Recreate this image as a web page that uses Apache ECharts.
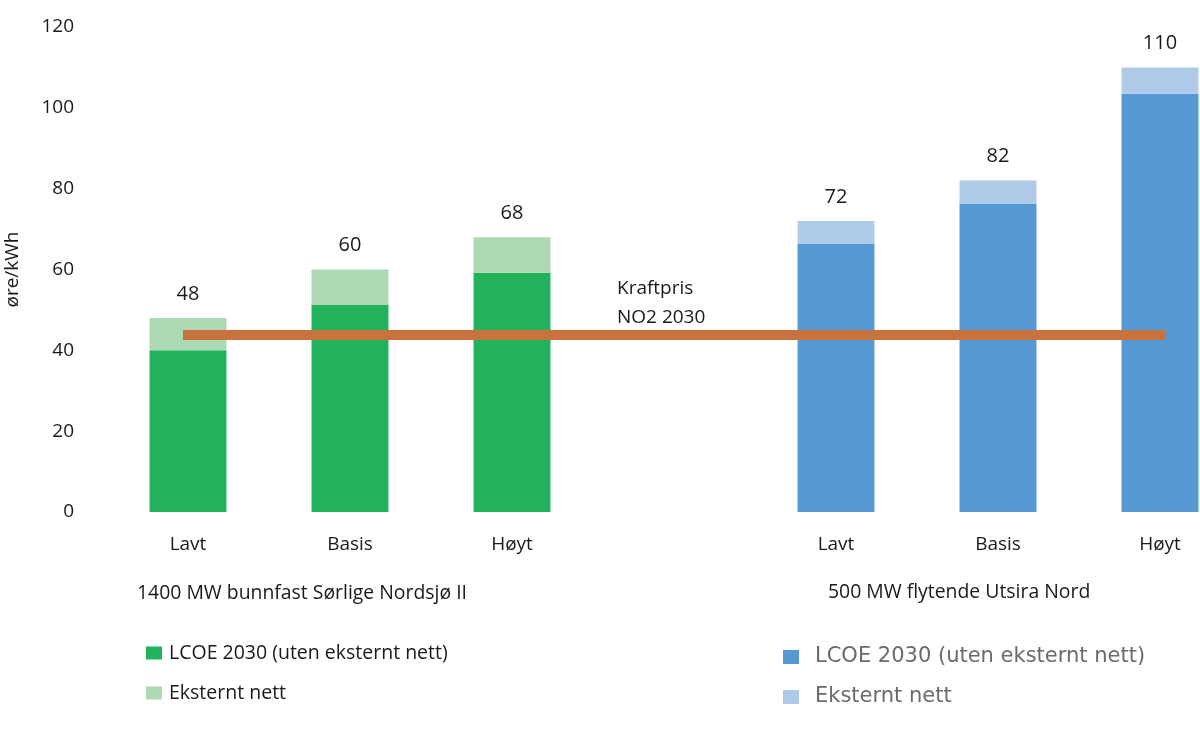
<!DOCTYPE html>
<html><head><meta charset="utf-8">
<script src="https://cdn.jsdelivr.net/npm/echarts@6/dist/echarts.min.js"></script>
<style>html,body{margin:0;padding:0;background:#fff;overflow:hidden}#c{width:1250px;height:734px}</style>
</head><body><div id="c"></div>
<script>
const categories = ['Lavt','Basis','Høyt','','Lavt','Basis','Høyt'];
const yTicks = [0,20,40,60,80,100,120];
const greenBase  = [40, 51.2, 59.2, '-', '-', '-', '-'];
const greenTotal = [48, 60, 68, '-', '-', '-', '-'];
const blueBase   = ['-', '-', '-', '-', 66.3, 76.2, 103.5];
const blueTotal  = ['-', '-', '-', '-', 72, 82, 110];
const kraftpris = 43.8;
const groupLabels = ['1400 MW bunnfast Sørlige Nordsjø II', '500 MW flytende Utsira Nord'];
const legendNames = {g1:'LCOE 2030 (uten eksternt nett)', g2:'Eksternt nett', b1:'LCOE 2030 (uten eksternt nett)', b2:'Eksternt nett'};

const ext = (t,b) => t.map((v,i)=> v==='-' ? '-' : +(v - b[i]).toFixed(2));
const FONT = 'Open Sans';
const INK = '#1a1a1a';
const chart = echarts.init(document.getElementById('c'));
const totalLabel = (totals) => ({
  show: true, position: 'top', distance: 14, color: INK, fontFamily: FONT, fontSize: 20,
  formatter: p => totals[p.dataIndex]
});
chart.setOption({
  animation: false,
  textStyle: {fontFamily: FONT},
  grid: {left: 107, right: 9, top: 27, bottom: 222, containLabel: false, outerBoundsMode: 'none'},
  xAxis: {
    type: 'category', data: categories,
    axisLine: {show: false}, axisTick: {show: false},
    axisLabel: {interval: 0, margin: 23, fontSize: 19, color: INK, fontFamily: FONT}
  },
  yAxis: {
    type: 'value', min: 0, max: 120, interval: 20,
    name: 'øre/kWh', nameLocation: 'middle', nameGap: 85, nameRotate: 90,
    nameTextStyle: {fontSize: 19, color: INK, fontFamily: FONT},
    splitLine: {show: false}, axisLine: {show: false}, axisTick: {show: false},
    axisLabel: {margin: 33, fontSize: 19, color: INK, fontFamily: FONT,
      formatter: v => yTicks.includes(v) ? String(v) : ''}
  },
  legend: [
    {left: 141, top: 637, orient: 'vertical', itemWidth: 16, itemHeight: 13, itemGap: 18,
     icon: 'rect', data: ['g1','g2'], formatter: n => legendNames[n],
     textStyle: {fontSize: 19.5, color: INK, fontFamily: FONT, lineHeight: 22, padding: [0,0,0,2]}},
    {left: 778, top: 640, orient: 'vertical', itemWidth: 16, itemHeight: 14, itemGap: 16,
     icon: 'rect', data: ['b1','b2'], formatter: n => legendNames[n],
     textStyle: {fontSize: 21, color: '#6a6a6a', fontFamily: 'DejaVu Sans', lineHeight: 24, padding: [0,0,0,11]}}
  ],
  series: [
    {name: 'g1', type: 'bar', stack: 'g', data: greenBase, barWidth: '47.5%', barGap: '-100%',
     itemStyle: {color: '#23b25c'}},
    {name: 'g2', type: 'bar', stack: 'g', data: ext(greenTotal, greenBase), barWidth: '47.5%',
     itemStyle: {color: '#acd8b3'}, label: totalLabel(greenTotal)},
    {name: 'b1', type: 'bar', stack: 'b', data: blueBase, barWidth: '47.5%', barGap: '-100%',
     itemStyle: {color: '#5499d3'}},
    {name: 'b2', type: 'bar', stack: 'b', data: ext(blueTotal, blueBase), barWidth: '47.5%',
     itemStyle: {color: '#afc9e9'}, label: totalLabel(blueTotal)},
    {name: 'Kraftpris NO2 2030', type: 'line', data: [[0, kraftpris], [6, kraftpris]],
     symbol: 'none', lineStyle: {width: 10, color: '#c8733e', cap: 'square'}, z: 5}
  ],
  graphic: [
    {type: 'text', left: 617, top: 274, style: {text: 'Kraftpris\nNO2 2030', fontSize: 19, lineHeight: 29, fill: INK, fontFamily: FONT}},
    {type: 'text', left: 137, top: 580, style: {text: groupLabels[0], fontSize: 19.4, lineHeight: 26, fill: INK, fontFamily: FONT}},
    {type: 'text', left: 828, top: 579, style: {text: groupLabels[1], fontSize: 19.4, lineHeight: 26, fill: INK, fontFamily: FONT}}
  ]
});
</script></body></html>
